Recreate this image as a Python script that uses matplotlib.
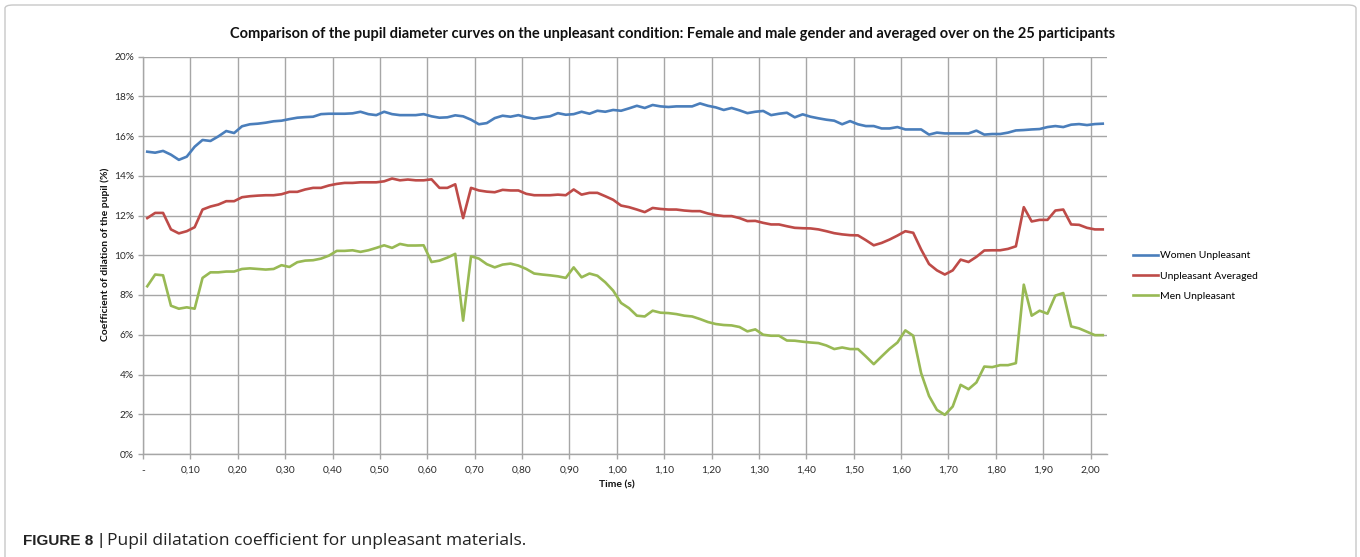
import numpy as np
import matplotlib
matplotlib.use("Agg")
import matplotlib.pyplot as plt
from matplotlib.patches import FancyBboxPatch

# --- Data (coefficient of dilation, %) sampled at 60 Hz ---
women_unpleasant = [
    15.21, 15.16, 15.25, 15.06, 14.80, 14.96, 15.46, 15.80, 15.75, 15.98,
    16.25, 16.15, 16.49, 16.59, 16.62, 16.67, 16.74, 16.77, 16.85, 16.92,
    16.95, 16.97, 17.10, 17.12, 17.12, 17.12, 17.14, 17.22, 17.10, 17.05,
    17.22, 17.10, 17.05, 17.05, 17.05, 17.10, 16.99, 16.92, 16.94, 17.04,
    16.99, 16.82, 16.59, 16.65, 16.90, 17.02, 16.97, 17.05, 16.94, 16.87,
    16.94, 16.99, 17.15, 17.07, 17.10, 17.22, 17.12, 17.27, 17.22, 17.31,
    17.27, 17.39, 17.52, 17.41, 17.56, 17.49, 17.46, 17.49, 17.49, 17.49,
    17.64, 17.52, 17.44, 17.31, 17.41, 17.29, 17.15, 17.22, 17.26, 17.05,
    17.12, 17.17, 16.94, 17.09, 16.97, 16.89, 16.82, 16.77, 16.59, 16.75,
    16.59, 16.50, 16.50, 16.38, 16.38, 16.45, 16.33, 16.33, 16.33, 16.07,
    16.17, 16.13, 16.13, 16.13, 16.13, 16.27, 16.07, 16.10, 16.10, 16.17,
    16.28, 16.30, 16.33, 16.35, 16.45, 16.50, 16.45, 16.57, 16.60, 16.55,
    16.60, 16.62,
]
unpleasant_averaged = [
    11.87, 12.13, 12.13, 11.30, 11.10, 11.21, 11.41, 12.30, 12.45, 12.55,
    12.72, 12.72, 12.92, 12.97, 13.00, 13.02, 13.02, 13.07, 13.19, 13.19,
    13.31, 13.39, 13.39, 13.51, 13.59, 13.64, 13.64, 13.67, 13.67, 13.67,
    13.72, 13.86, 13.77, 13.81, 13.77, 13.77, 13.82, 13.39, 13.39, 13.57,
    11.87, 13.39, 13.26, 13.20, 13.17, 13.29, 13.26, 13.26, 13.09, 13.02,
    13.02, 13.02, 13.05, 13.02, 13.31, 13.05, 13.14, 13.14, 12.97, 12.79,
    12.50, 12.42, 12.30, 12.17, 12.38, 12.33, 12.30, 12.30, 12.25, 12.22,
    12.22, 12.10, 12.02, 11.97, 11.97, 11.87, 11.72, 11.73, 11.63, 11.55,
    11.55, 11.46, 11.38, 11.36, 11.35, 11.30, 11.21, 11.11, 11.05, 11.01,
    11.00, 10.76, 10.50, 10.62, 10.79, 10.99, 11.21, 11.13, 10.29, 9.56,
    9.24, 9.03, 9.24, 9.78, 9.66, 9.92, 10.24, 10.25, 10.25, 10.32,
    10.45, 12.42, 11.70, 11.78, 11.78, 12.25, 12.30, 11.55, 11.53, 11.38,
    11.30, 11.30,
]
men_unpleasant = [
    8.44, 9.03, 8.99, 7.46, 7.31, 7.38, 7.31, 8.86, 9.14, 9.14,
    9.18, 9.18, 9.31, 9.34, 9.31, 9.28, 9.31, 9.50, 9.41, 9.65,
    9.73, 9.75, 9.83, 9.98, 10.22, 10.22, 10.25, 10.17, 10.25, 10.37,
    10.50, 10.37, 10.57, 10.49, 10.49, 10.50, 9.66, 9.73, 9.88, 10.07,
    6.71, 9.95, 9.83, 9.55, 9.39, 9.53, 9.58, 9.48, 9.31, 9.08,
    9.03, 8.99, 8.94, 8.86, 9.39, 8.89, 9.08, 8.97, 8.64, 8.22,
    7.60, 7.34, 6.96, 6.92, 7.21, 7.11, 7.09, 7.04, 6.96, 6.92,
    6.79, 6.64, 6.54, 6.49, 6.47, 6.39, 6.17, 6.27, 6.00, 5.95,
    5.95, 5.71, 5.70, 5.65, 5.61, 5.58, 5.46, 5.28, 5.36, 5.28,
    5.28, 4.91, 4.52, 4.91, 5.29, 5.61, 6.22, 5.95, 4.07, 2.92,
    2.22, 1.97, 2.39, 3.48, 3.26, 3.60, 4.40, 4.37, 4.47, 4.47,
    4.57, 8.52, 6.96, 7.21, 7.06, 7.97, 8.10, 6.42, 6.32, 6.15,
    5.98, 5.98,
]
sample_rate = 60.0
time_offset = 0.009
time_s = time_offset + np.arange(len(women_unpleasant)) / sample_rate

x_ticks = [0.0, 0.1, 0.2, 0.3, 0.4, 0.5, 0.6, 0.7, 0.8, 0.9, 1.0,
           1.1, 1.2, 1.3, 1.4, 1.5, 1.6, 1.7, 1.8, 1.9, 2.0]
y_ticks = [0, 2, 4, 6, 8, 10, 12, 14, 16, 18, 20]

series = [
    ('Women Unpleasant', women_unpleasant, '#4a7ebb'),
    ('Unpleasant Averaged', unpleasant_averaged, '#be4b48'),
    ('Men Unpleasant', men_unpleasant, '#98b954'),
]

# --- Figure ---
fig = plt.figure(figsize=(13.6, 5.57), dpi=100)
fig.patch.set_facecolor('white')

frame = FancyBboxPatch((5 / 1360, -0.05), 1351 / 1360, 1 - 5 / 557 + 0.05,
                       boxstyle='round,pad=0,rounding_size=0.006',
                       transform=fig.transFigure, fill=False,
                       edgecolor='#c8c8c8', linewidth=1.0)
fig.patches.append(frame)

ax = fig.add_axes([143 / 1360, 1 - 454 / 557, 963.7 / 1360, (454 - 56.5) / 557])

for label, values, color in series:
    ax.plot(time_s, values, color=color, linewidth=1.9, label=label,
            solid_joinstyle='round')

ax.set_xlim(0, 2.034)
ax.set_ylim(0, 20)
ax.set_xticks(x_ticks)
ax.set_xticklabels(['-'] + [f'{t:.2f}'.replace('.', ',') for t in x_ticks[1:]])
ax.set_yticks(y_ticks)
ax.set_yticklabels([f'{v}%' for v in y_ticks])

grid_color = '#a6a6a6'
ax.grid(True, color=grid_color, linewidth=1.0)
ax.set_axisbelow(True)
for side in ['top', 'right']:
    ax.spines[side].set_visible(False)
for side in ['left', 'bottom']:
    ax.spines[side].set_color(grid_color)
    ax.spines[side].set_linewidth(1.0)
ax.tick_params(axis='both', colors=grid_color, length=3.5, width=1.0,
               labelcolor='#2a2a2a', labelsize=7.3, labelfontfamily='Lato')
ax.tick_params(axis='x', pad=5)
ax.tick_params(axis='y', pad=3)

fig.text(673 / 1360, 1 - 34 / 557,
         'Comparison of the pupil diameter curves on the unpleasant condition: '
         'Female and male gender and averaged over on the 25 participants',
         ha='center', va='center', fontsize=10.5, fontweight='bold',
         family='Lato', color='#111111')
fig.text(617 / 1360, 1 - 485 / 557, 'Time (s)', ha='center', va='center',
         fontsize=7.5, fontweight='bold', family='Lato', color='#111111')
fig.text(105 / 1360, 1 - 254 / 557, 'Coefficient of dilation of the pupil (%)',
         ha='center', va='center', rotation=90, fontsize=7.5,
         fontweight='bold', family='Lato', color='#111111')

leg = fig.legend(loc='upper left', bbox_to_anchor=(1133 / 1360, 1 - 251 / 557),
                 frameon=False, handlelength=2.4,
                 handletextpad=0.15, labelspacing=1.05, borderpad=0,
                 borderaxespad=0, prop={'family': 'Lato', 'size': 7.5})
for line in leg.get_lines():
    line.set_linewidth(1.9)

# --- Caption ---
fig.text(23 / 1360, 1 - 541 / 557, 'FIGURE 8', ha='left', va='center',
         fontsize=11, fontweight='bold', family='Liberation Sans',
         color='#222222')
fig.text(99 / 1360, 1 - 541 / 557, '|', ha='left', va='center',
         fontsize=12, family='Liberation Sans', color='#222222')
fig.text(107 / 1360, 1 - 541 / 557,
         'Pupil dilatation coefficient for unpleasant materials.',
         ha='left', va='center', fontsize=12.5, family='Open Sans',
         color='#222222')

fig.savefig('out.png', dpi=100)
